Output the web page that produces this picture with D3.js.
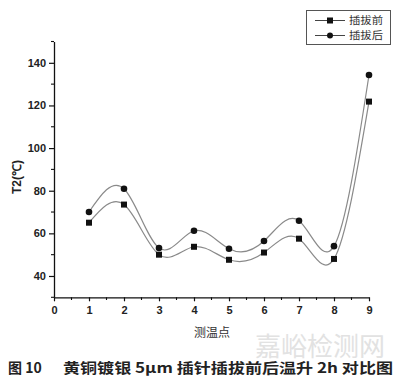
<!DOCTYPE html>
<html><head><meta charset="utf-8">
<script src="https://cdn.jsdelivr.net/npm/d3@7/dist/d3.min.js"></script>
<style>body{margin:0;background:#fff;} svg{display:block;}</style>
</head><body>
<svg id="c" width="400" height="383"></svg>
<script>
const points = [1,2,3,4,5,6,7,8,9];
const before = [65,73.5,50,53.7,47.6,51,57.5,48,121.8];
const after  = [70,80.9,53.1,61.2,52.8,56.4,65.9,54,134.3];
const seriesNames = ["插拔前","插拔后"];
const xTicks = [0,1,2,3,4,5,6,7,8,9];
const yTicks = [40,60,80,100,120,140];

const svg = d3.select("#c");
const x = d3.scaleLinear().domain([0,9]).range([54,369]);
const y = d3.scaleLinear().domain([30,150]).range([297.3,41.5]);
const font = "Arial, 'Liberation Sans', sans-serif";
const cjk = "'Noto Sans CJK SC', sans-serif";

// watermark
svg.append("text").attr("x",320).attr("y",356).attr("text-anchor","middle")
  .attr("font-family",cjk).attr("font-size",26).attr("fill","#e2e2e2").text("嘉峪检测网");

// axes
const xAxis = svg.append("g").attr("transform","translate(0,297.3)")
  .call(d3.axisBottom(x).tickValues(xTicks).tickFormat(d3.format("d")).tickSize(4).tickSizeOuter(0));
const yAxis = svg.append("g").attr("transform","translate(54,0)")
  .call(d3.axisLeft(y).tickValues(yTicks).tickSize(5).tickSizeOuter(0));
[xAxis,yAxis].forEach(g=>{
  g.select(".domain").attr("stroke","#111").attr("stroke-width",1.3);
  g.selectAll(".tick line").attr("stroke","#111").attr("stroke-width",1.2);
  g.selectAll("text").attr("font-family",font).attr("font-size",11).attr("font-weight","bold").attr("fill","#222");
});
xAxis.selectAll("text").attr("dy","0.9em");
// minor ticks
const xMinor = d3.range(0.5,9,1);
svg.append("g").selectAll("line").data(xMinor).join("line")
  .attr("x1",d=>x(d)).attr("x2",d=>x(d)).attr("y1",297.3).attr("y2",300)
  .attr("stroke","#111").attr("stroke-width",1.1);
const yMinor = [30,50,70,90,110,130,150];
svg.append("g").selectAll("line").data(yMinor).join("line")
  .attr("x1",51).attr("x2",54).attr("y1",d=>y(d)).attr("y2",d=>y(d))
  .attr("stroke","#111").attr("stroke-width",1.1);

// axis labels
svg.append("text").attr("transform","translate(21,177) rotate(-90)").attr("text-anchor","middle")
  .attr("font-family",font).attr("font-size",12).attr("font-weight","bold").attr("fill","#222").text("T2(℃)");
svg.append("text").attr("x",212).attr("y",337).attr("text-anchor","middle")
  .attr("font-family",cjk).attr("font-size",12).attr("fill","#333").text("测温点");

// lines
const line = d3.line().x((d,i)=>x(points[i])).y(d=>y(d)).curve(d3.curveNatural);
[before,after].forEach(s=>{
  svg.append("path").attr("d",line(s)).attr("fill","none").attr("stroke","#8a8a8a").attr("stroke-width",1.2);
});
svg.append("g").selectAll("rect").data(before).join("rect")
  .attr("x",(d,i)=>x(points[i])-3).attr("y",d=>y(d)-3).attr("width",6).attr("height",6).attr("fill","#111");
svg.append("g").selectAll("circle").data(after).join("circle")
  .attr("cx",(d,i)=>x(points[i])).attr("cy",d=>y(d)).attr("r",3.3).attr("fill","#111");

// legend
const lg = svg.append("g");
lg.append("rect").attr("x",306.5).attr("y",10.5).attr("width",84).attr("height",34)
  .attr("fill","#fff").attr("stroke","#555").attr("stroke-width",1);
seriesNames.forEach((n,i)=>{
  const yy = 20.5 + i*15;
  lg.append("line").attr("x1",315).attr("x2",345).attr("y1",yy).attr("y2",yy).attr("stroke","#444").attr("stroke-width",1);
  if(i===0) lg.append("rect").attr("x",327).attr("y",yy-3).attr("width",6).attr("height",6).attr("fill","#111");
  else lg.append("circle").attr("cx",330).attr("cy",yy).attr("r",3).attr("fill","#111");
  lg.append("text").attr("x",349).attr("y",yy+3.6).attr("font-family",cjk).attr("font-size",10)
    .attr("fill","#333").attr("textLength",34).attr("lengthAdjust","spacingAndGlyphs").text(n);
});

// caption
svg.append("text").attr("x",8).attr("y",373).attr("font-family",cjk).attr("font-size",14)
  .attr("font-weight","bold").attr("fill","#222").text("图 10");
svg.append("text").attr("x",63).attr("y",373).attr("font-family",cjk).attr("font-size",14)
  .attr("font-weight","bold").attr("fill","#222").attr("textLength",330).attr("lengthAdjust","spacingAndGlyphs")
  .text("黄铜镀银 5μm 插针插拔前后温升 2h 对比图");
</script>
</body></html>
